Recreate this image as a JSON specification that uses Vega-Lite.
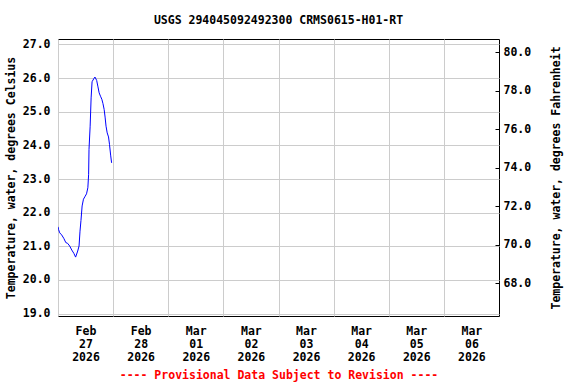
{
  "$schema": "https://vega.github.io/schema/vega-lite/v6.json",
  "width": 441,
  "height": 277,
  "autosize": {"type": "none"},
  "padding": {"left": 58, "top": 39, "right": 77, "bottom": 68},
  "background": "white",
  "title": {
    "text": "USGS 294045092492300 CRMS0615-H01-RT",
    "font": "DejaVu Sans Mono",
    "fontSize": 11.5,
    "fontWeight": "bold",
    "color": "black",
    "anchor": "middle",
    "baseline": "alphabetic",
    "offset": 3
  },
  "data": {
    "values": [
      {"time": "2026-02-27T00:00:00", "temp_c": 21.58},
      {"time": "2026-02-27T00:15:00", "temp_c": 21.50},
      {"time": "2026-02-27T00:45:00", "temp_c": 21.40},
      {"time": "2026-02-27T01:35:00", "temp_c": 21.34},
      {"time": "2026-02-27T02:30:00", "temp_c": 21.24},
      {"time": "2026-02-27T03:25:00", "temp_c": 21.11},
      {"time": "2026-02-27T04:10:00", "temp_c": 21.09},
      {"time": "2026-02-27T05:05:00", "temp_c": 21.01},
      {"time": "2026-02-27T06:00:00", "temp_c": 20.89},
      {"time": "2026-02-27T06:55:00", "temp_c": 20.79},
      {"time": "2026-02-27T07:40:00", "temp_c": 20.68},
      {"time": "2026-02-27T08:35:00", "temp_c": 20.86},
      {"time": "2026-02-27T09:10:00", "temp_c": 21.01},
      {"time": "2026-02-27T09:35:00", "temp_c": 21.45},
      {"time": "2026-02-27T10:00:00", "temp_c": 21.77},
      {"time": "2026-02-27T10:30:00", "temp_c": 22.20},
      {"time": "2026-02-27T11:05:00", "temp_c": 22.40},
      {"time": "2026-02-27T11:40:00", "temp_c": 22.47},
      {"time": "2026-02-27T12:25:00", "temp_c": 22.56},
      {"time": "2026-02-27T13:00:00", "temp_c": 22.74},
      {"time": "2026-02-27T13:20:00", "temp_c": 23.14},
      {"time": "2026-02-27T13:30:00", "temp_c": 23.88},
      {"time": "2026-02-27T14:00:00", "temp_c": 24.57},
      {"time": "2026-02-27T14:25:00", "temp_c": 25.41},
      {"time": "2026-02-27T14:50:00", "temp_c": 25.89},
      {"time": "2026-02-27T15:35:00", "temp_c": 25.98},
      {"time": "2026-02-27T16:05:00", "temp_c": 26.03},
      {"time": "2026-02-27T16:50:00", "temp_c": 25.93},
      {"time": "2026-02-27T17:20:00", "temp_c": 25.76},
      {"time": "2026-02-27T17:55:00", "temp_c": 25.56},
      {"time": "2026-02-27T18:30:00", "temp_c": 25.46},
      {"time": "2026-02-27T19:05:00", "temp_c": 25.37},
      {"time": "2026-02-27T19:35:00", "temp_c": 25.24},
      {"time": "2026-02-27T20:05:00", "temp_c": 25.07},
      {"time": "2026-02-27T20:30:00", "temp_c": 24.84},
      {"time": "2026-02-27T20:55:00", "temp_c": 24.57},
      {"time": "2026-02-27T21:25:00", "temp_c": 24.37},
      {"time": "2026-02-27T22:00:00", "temp_c": 24.25},
      {"time": "2026-02-27T22:25:00", "temp_c": 24.03},
      {"time": "2026-02-27T22:55:00", "temp_c": 23.71},
      {"time": "2026-02-27T23:20:00", "temp_c": 23.48}
    ]
  },
  "encoding": {
    "x": {
      "field": "time",
      "type": "temporal",
      "scale": {
        "domain": [
          {"year": 2026, "month": "feb", "date": 27},
          {"year": 2026, "month": "mar", "date": 7}
        ]
      },
      "axis": {
        "values": [
          {"year": 2026, "month": "feb", "date": 27},
          {"year": 2026, "month": "feb", "date": 28},
          {"year": 2026, "month": "mar", "date": 1},
          {"year": 2026, "month": "mar", "date": 2},
          {"year": 2026, "month": "mar", "date": 3},
          {"year": 2026, "month": "mar", "date": 4},
          {"year": 2026, "month": "mar", "date": 5},
          {"year": 2026, "month": "mar", "date": 6}
        ],
        "labelExpr": "[timeFormat(datum.value, '%b'), timeFormat(datum.value, '%d'), timeFormat(datum.value, '%Y')]",
        "labelOffset": 27.5,
        "labelLineHeight": 13,
        "labelPadding": 9,
        "labelOverlap": false,
        "labelFlush": false,
        "labelBound": false,
        "ticks": false,
        "grid": true,
        "title": "---- Provisional Data Subject to Revision ----",
        "titleColor": "#ff0000",
        "titlePadding": 7
      }
    }
  },
  "layer": [
    {
      "mark": {"type": "line", "color": "#0000ff", "strokeWidth": 1, "clip": true},
      "encoding": {
        "y": {
          "field": "temp_c",
          "type": "quantitative",
          "scale": {"domain": [18.93, 27.16], "nice": false, "zero": false},
          "axis": {
            "orient": "left",
            "values": [19, 20, 21, 22, 23, 24, 25, 26, 27],
            "format": ".1f",
            "title": "Temperature, water, degrees Celsius",
            "grid": true,
            "ticks": false,
            "labelPadding": 8,
            "titlePadding": 6
          }
        }
      }
    },
    {
      "mark": {"type": "line", "opacity": 0, "clip": true},
      "encoding": {
        "y": {
          "field": "temp_c",
          "type": "quantitative",
          "scale": {"domain": [66.31, 80.68], "nice": false, "zero": false},
          "axis": {
            "orient": "right",
            "values": [68, 70, 72, 74, 76, 78, 80],
            "format": ".1f",
            "title": "Temperature, water, degrees Fahrenheit",
            "titleAngle": 270,
            "grid": false,
            "ticks": true,
            "tickSize": -4,
            "tickColor": "black",
            "labelPadding": 8,
            "titlePadding": 31
          }
        }
      }
    }
  ],
  "resolve": {"scale": {"y": "independent"}},
  "config": {
    "view": {"stroke": "black", "strokeWidth": 1},
    "axis": {
      "domain": false,
      "gridColor": "#cccccc",
      "gridWidth": 1,
      "gridOpacity": 1,
      "labelFont": "DejaVu Sans Mono",
      "labelFontSize": 11.5,
      "labelFontWeight": "bold",
      "labelColor": "black",
      "titleFont": "DejaVu Sans Mono",
      "titleFontSize": 11.5,
      "titleFontWeight": "bold",
      "titleColor": "black"
    }
  }
}
